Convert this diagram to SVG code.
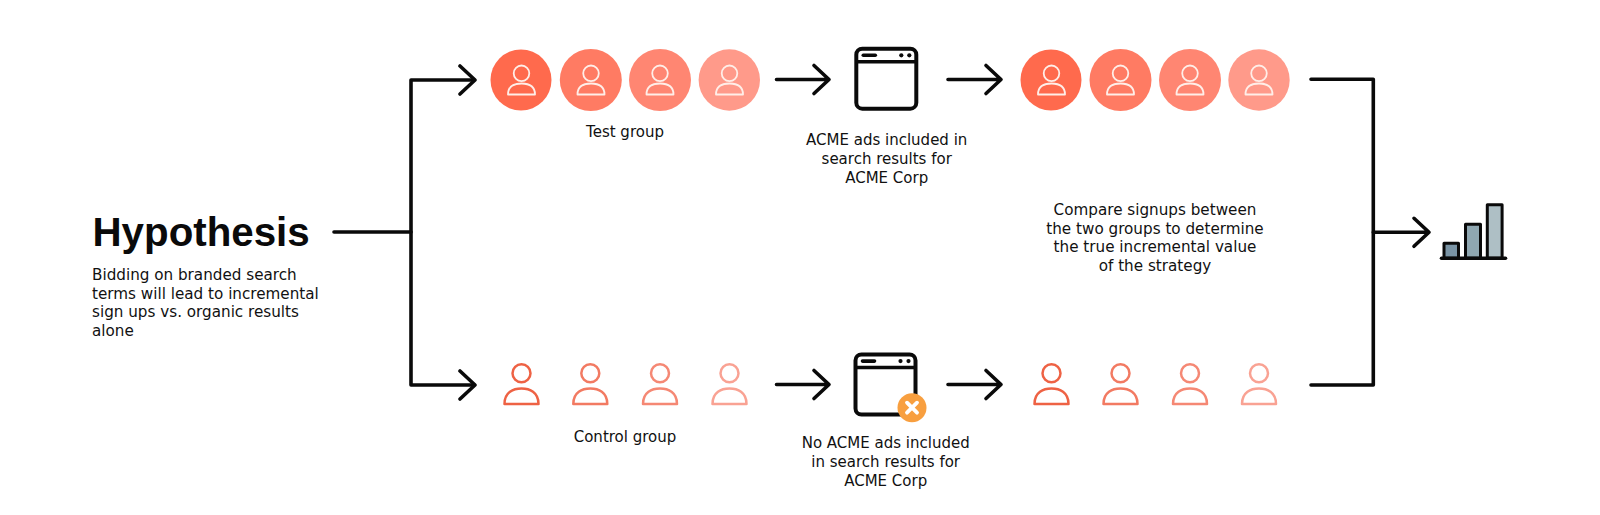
<svg xmlns="http://www.w3.org/2000/svg" width="1600" height="515" viewBox="0 0 1600 515">
<style>
.t{font-family:"DejaVu Sans",sans-serif;font-size:15px;fill:#111;text-anchor:middle}
.l{text-anchor:start;font-size:15.200px}
.w{font-size:15.200px}
.h{font-family:"Liberation Sans",Arial,sans-serif;font-size:40.300px;font-weight:700;fill:#0a0a0a}
.c{fill:none;stroke:#0a0a0a;stroke-width:3.600;stroke-linecap:round;stroke-linejoin:round}
.b{stroke:#0a0a0a;stroke-width:3;stroke-linejoin:round}
</style>
<defs>
<g id="p" fill="none" stroke-width="2.500" stroke-linejoin="round"><circle cx="0" cy="-11.700" r="9"/><path d="M-17 19C-17 7-8 3.500 0 3.500S17 7 17 19Z"/></g>
<g id="pw" fill="none" stroke="#ffeee8" stroke-width="1.800" stroke-linejoin="round"><circle cx="0" cy="-6.700" r="7.800"/><path d="M-13.500 14.500C-13.500 6-7 3.500 0 3.500S13.500 6 13.500 14.500Z"/></g>
<g id="win"><rect x="-30" y="-30" width="60" height="60" rx="6" fill="#fff" stroke="#0a0a0a" stroke-width="4"/><path d="M-30 -17H30" stroke="#0a0a0a" stroke-width="3.600"/><path d="M-23 -23.400H-11" stroke="#0a0a0a" stroke-width="3.600" stroke-linecap="round"/><circle cx="15" cy="-23.400" r="2.100" fill="#0a0a0a"/><circle cx="23" cy="-23.400" r="2.100" fill="#0a0a0a"/></g>
</defs>
<rect width="1600" height="515" fill="#fff"/>
<g id="connectors">
<path class="c" d="M334 232H411"/>
<path class="c" d="M474 80H411V385H474"/>
<path class="c" d="M460 66L475 80L460 94M460 371L475 385L460 399"/>
<path class="c" d="M776.500 79.500H829M814 65.500L829 79.500L814 93.500"/>
<path class="c" d="M948 79.500H1001M986 65.500L1001 79.500L986 93.500"/>
<path class="c" d="M776.500 384.500H829M814 370.500L829 384.500L814 398.500"/>
<path class="c" d="M948 384.500H1001M986 370.500L1001 384.500L986 398.500"/>
<path class="c" d="M1311 79.300H1373.300V385H1311"/>
<path class="c" d="M1373.300 232.300H1429M1414 218.300L1429 232.300L1414 246.300"/>
</g>
<g id="hypothesis">
<text class="h" x="92.500" y="246">Hypothesis</text>
<text class="t l" x="92" y="280">Bidding on branded search</text>
<text class="t l" x="92" y="298.500">terms will lead to incremental</text>
<text class="t l" x="92" y="317">sign ups vs. organic results</text>
<text class="t l" x="92" y="335.500">alone</text>
</g>
<g id="test-group">
<circle cx="521" cy="80" r="30.500" fill="#ff6a4d"/><use href="#pw" x="521.500" y="80"/>
<circle cx="590.800" cy="80" r="31" fill="#ff7b63"/><use href="#pw" x="591" y="80"/>
<circle cx="660" cy="80" r="31" fill="#ff8672"/><use href="#pw" x="660" y="80"/>
<circle cx="729.300" cy="80" r="30.700" fill="#ff9a8a"/><use href="#pw" x="729.500" y="80"/>
<text class="t" x="625" y="137">Test group</text>
</g>
<g id="ads"><use href="#win" x="886.300" y="78.700"/>
<text class="t" x="886.700" y="145">ACME ads included in</text>
<text class="t" x="886.700" y="164">search results for</text>
<text class="t" x="886.700" y="182.700">ACME Corp</text>
</g>
<g id="test-result">
<circle cx="1051" cy="80" r="30.500" fill="#ff6a4d"/><use href="#pw" x="1051.500" y="80"/>
<circle cx="1120.500" cy="80" r="31" fill="#ff7b63"/><use href="#pw" x="1120.500" y="80"/>
<circle cx="1190" cy="80" r="31" fill="#ff8672"/><use href="#pw" x="1190" y="80"/>
<circle cx="1259" cy="80" r="30.700" fill="#ff9a8a"/><use href="#pw" x="1259" y="80"/>
</g>
<g id="compare">
<text class="t w" x="1155" y="215">Compare signups between</text>
<text class="t w" x="1155" y="233.500">the two groups to determine</text>
<text class="t w" x="1155" y="252">the true incremental value</text>
<text class="t w" x="1155" y="270.500">of the strategy</text>
</g>
<g id="chart">
<rect class="b" x="1444" y="243.200" width="14.500" height="15" fill="#7a94a5"/>
<rect class="b" x="1465.500" y="224.200" width="15" height="34" fill="#8fa7b1"/>
<rect class="b" x="1487.300" y="204.800" width="14.800" height="53.400" fill="#aebfc5"/>
<path d="M1441.500 258.300H1505.500" stroke="#0a0a0a" stroke-width="3.600" stroke-linecap="round"/>
</g>
<g id="control-group">
<use href="#p" x="521.500" y="385" stroke="#ee6244"/>
<use href="#p" x="590.300" y="385" stroke="#f27a62"/>
<use href="#p" x="660" y="385" stroke="#f58874"/>
<use href="#p" x="729.500" y="385" stroke="#f9a293"/>
<text class="t" x="625" y="442">Control group</text>
</g>
<g id="no-ads"><use href="#win" x="885.500" y="384.500"/>
<circle cx="912" cy="407.700" r="14.500" fill="#f89f3f"/>
<path d="M907 402.700L917 412.700M917 402.700L907 412.700" stroke="#fff" stroke-width="3.800" stroke-linecap="round"/>
<text class="t" x="885.700" y="448">No ACME ads included</text>
<text class="t" x="885.700" y="466.700">in search results for</text>
<text class="t" x="885.700" y="485.500">ACME Corp</text>
</g>
<g id="control-result">
<use href="#p" x="1051.500" y="385" stroke="#ee6244"/>
<use href="#p" x="1120.500" y="385" stroke="#f27a62"/>
<use href="#p" x="1190" y="385" stroke="#f58874"/>
<use href="#p" x="1259" y="385" stroke="#f9a293"/>
</g>
</svg>
